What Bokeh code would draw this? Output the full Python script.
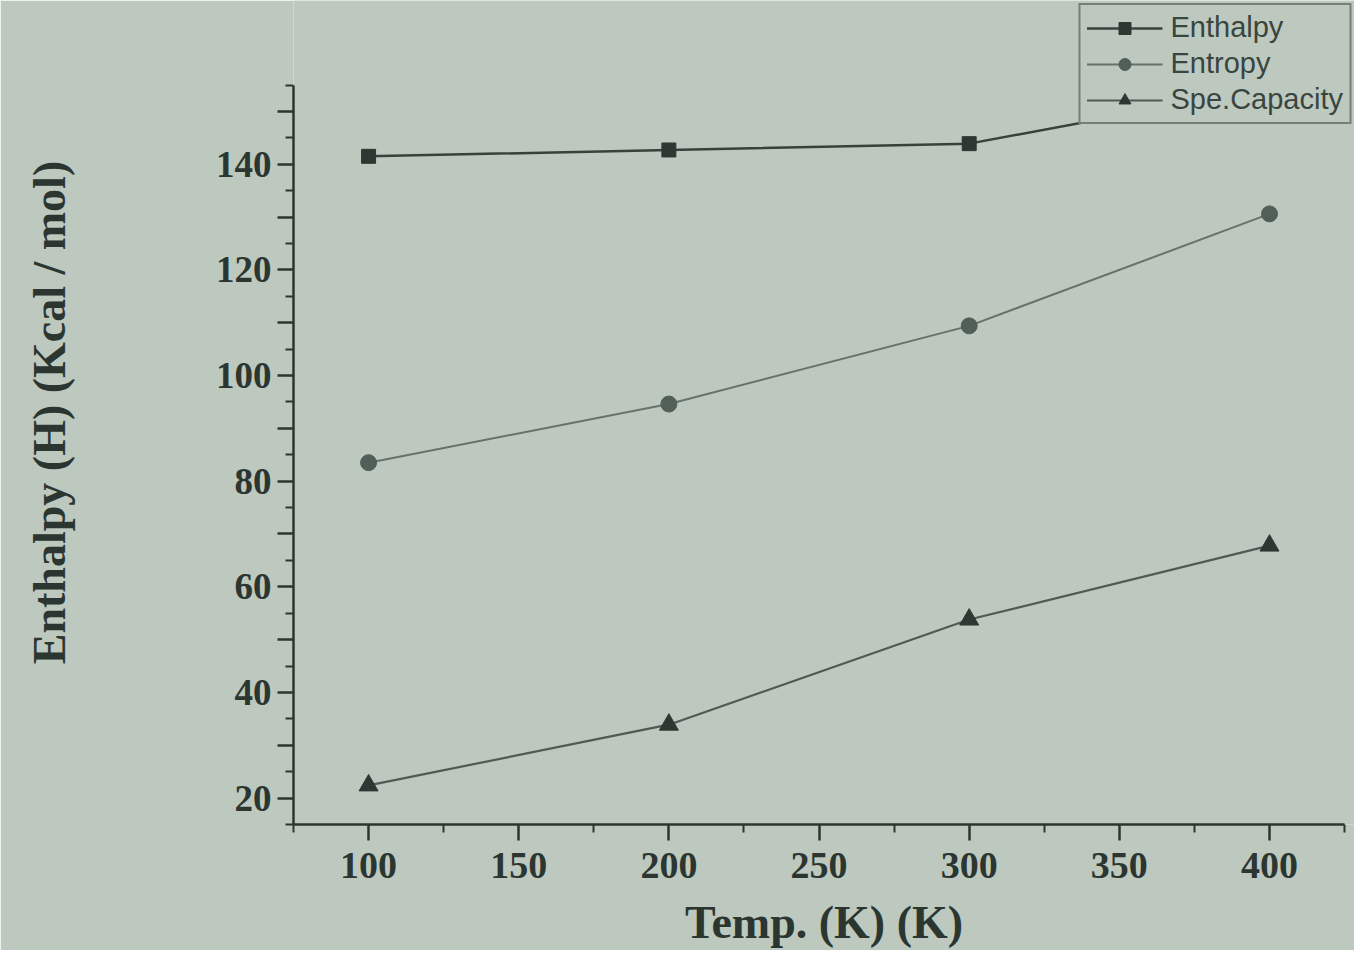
from bokeh.plotting import figure
from bokeh.models import FixedTicker, Range1d, Legend, LegendItem
from bokeh.embed import file_html
from bokeh.resources import INLINE

# ---- data ----
temps = [100, 200, 300, 400]
enthalpy = [141.5, 142.7, 143.9, 154.5]
entropy = [83.5, 94.6, 109.4, 130.6]
spe_capacity = [22.4, 33.9, 53.8, 67.8]

series_names = ["Enthalpy", "Entropy", "Spe.Capacity"]
x_label = "Temp. (K) (K)"
y_label = "Enthalpy (H) (Kcal / mol)"

x_major = [100, 150, 200, 250, 300, 350, 400]
x_minor = [75, 125, 175, 225, 275, 325, 375, 425]
y_major = [20, 30, 40, 50, 60, 70, 80, 90, 100, 110, 120, 130, 140, 150]
y_minor = [15, 25, 35, 45, 55, 65, 75, 85, 95, 105, 115, 125, 135, 145, 155]
y_labelled = [20, 40, 60, 80, 100, 120, 140]

BG = "#bdc9bf"
INK = "#2c3631"

# axes are drawn only over 75..425 and 15..155 (bounds); the frame extends to
# the page edges so the legend can sit in the top-right corner, as in the photo
p = figure(width=1354, height=950, output_backend="svg", toolbar_location=None,
           x_range=Range1d(75, 428.3), y_range=Range1d(15, 171.0),
           min_border_left=293, min_border_right=0, min_border_top=0,
           min_border_bottom=122)
p.background_fill_color = BG
p.border_fill_color = BG
p.outline_line_color = None
p.grid.visible = False

for ax in (p.xaxis[0], p.yaxis[0]):
    ax.axis_line_color = INK
    ax.axis_line_width = 2.5
    ax.major_tick_line_color = INK
    ax.major_tick_line_width = 2.5
    ax.minor_tick_line_color = INK
    ax.minor_tick_line_width = 2
    ax.major_tick_out = 16
    ax.major_tick_in = 0
    ax.minor_tick_out = 8
    ax.minor_tick_in = 0
    ax.major_label_text_font = "Liberation Serif"
    ax.major_label_text_font_style = "bold"
    ax.major_label_text_color = INK
    ax.axis_label_text_font = "Liberation Serif"
    ax.axis_label_text_font_style = "bold"
    ax.axis_label_text_color = INK

p.xaxis.bounds = (75, 425)
p.yaxis.bounds = (15, 155)
p.xaxis.ticker = FixedTicker(ticks=x_major, minor_ticks=x_minor)
p.yaxis.ticker = FixedTicker(ticks=y_major, minor_ticks=y_minor)
p.yaxis.major_label_overrides = {v: ("" if v not in y_labelled else str(v)) for v in y_major}

p.xaxis.major_label_text_font_size = "38px"
p.yaxis.major_label_text_font_size = "37px"
p.xaxis.major_label_standoff = 12
p.yaxis.major_label_standoff = 6
p.xaxis.axis_label = x_label
p.yaxis.axis_label = y_label
p.xaxis.axis_label_text_font_size = "46px"
p.yaxis.axis_label_text_font_size = "46px"
p.xaxis.axis_label_standoff = 16
p.yaxis.axis_label_standoff = 138

l1 = p.line(temps, enthalpy, line_color="#37423c", line_width=2.5)
m1 = p.scatter(temps, enthalpy, marker="square", size=14, fill_color="#2e3833", line_color="#2e3833")
l2 = p.line(temps, entropy, line_color="#66726b", line_width=2)
m2 = p.scatter(temps, entropy, marker="circle", size=16, fill_color="#525e58", line_color="#525e58")
l3 = p.line(temps, spe_capacity, line_color="#4f5a54", line_width=2.2)
m3 = p.scatter(temps, spe_capacity, marker="triangle", size=19, fill_color="#2e3833", line_color="#2e3833")

legend = Legend(items=[LegendItem(label=series_names[0], renderers=[l1, m1]),
                       LegendItem(label=series_names[1], renderers=[l2, m2]),
                       LegendItem(label=series_names[2], renderers=[l3, m3])],
                location="top_right")
legend.background_fill_color = BG
legend.background_fill_alpha = 1
legend.border_line_color = INK
legend.border_line_width = 2.5
legend.label_text_font = "Liberation Sans"
legend.label_text_font_size = "29px"
legend.label_text_color = "#3a4540"
legend.glyph_width = 76
legend.glyph_height = 30
legend.label_height = 30
legend.spacing = 3
legend.padding = 6
legend.margin = 3
legend.label_standoff = 8
p.add_layout(legend, "center")

open("out.html", "w").write(file_html(p, INLINE))
